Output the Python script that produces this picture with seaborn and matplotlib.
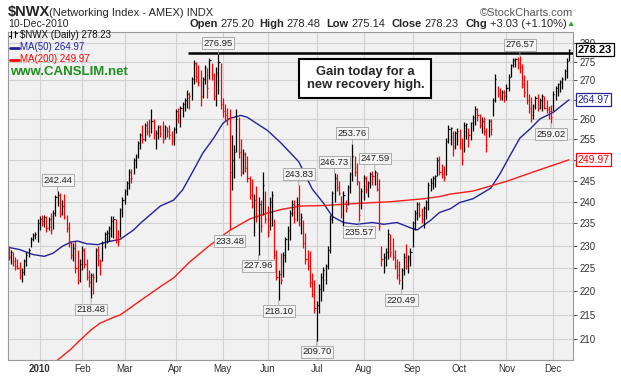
import pandas as pd
import numpy as np
import matplotlib.pyplot as plt
import matplotlib.ticker as mticker
from matplotlib.lines import Line2D
import seaborn as sns

# $NWX daily bars 11-Dec-2009 .. 10-Dec-2010
highs = [
    229.8, 229.0, 228.5, 227.5, 227.0, 226.3, 225.0, 227.0, 228.5, 229.5, 231.9, 232.8, 233.0, 236.0,  # Dec 09
    236.7, 236.9, 237.0, 236.8, 236.5, 237.3, 238.0, 241.5, 242.44, 242.0, 240.5, 241.8, 237.0, 235.3,
    231.0, 230.5, 231.0, 229.0, 227.0,  # Jan
    230.0, 229.5, 227.0, 224.5, 224.0, 224.0, 229.5, 230.0, 227.0, 231.0, 233.0, 233.5, 234.5, 236.7,
    236.7, 236.0, 233.5, 238.5, 241.0,  # Feb
    243.0, 245.0, 247.7, 247.8, 250.5, 251.5, 254.5, 256.5, 258.5, 259.0, 259.5, 260.0, 262.5, 260.0,
    257.3, 258.5, 258.5, 259.5, 258.5, 258.0, 258.5, 257.0, 258.0,  # Mar
    262.5, 263.0, 263.5, 264.5, 265.5, 267.5, 267.0, 271.0, 275.4, 275.0, 274.0, 272.7, 271.0, 274.0,
    273.2, 276.0, 274.5, 272.0, 273.5, 276.95, 274.5,  # Apr
    265.5, 264.0, 263.0, 262.5, 256.0, 253.5, 262.5, 260.5, 255.0, 252.5, 252.0, 250.9, 246.0, 245.3,
    241.7, 243.6, 241.0, 240.4, 247.0, 242.6,  # May
    239.0, 241.0, 242.5, 236.0, 229.0, 224.5, 228.3, 228.5, 232.0, 234.5, 238.0, 240.3, 240.4, 241.0,
    243.83, 237.5, 235.7, 232.8, 229.0, 228.7, 224.0, 222.5,  # Jun
    218.0, 221.5, 224.0, 225.2, 226.0, 229.8, 236.9, 242.6, 246.73, 246.5, 245.0, 241.3, 242.6, 240.4,
    244.0, 247.0, 253.76, 251.0, 249.3, 245.0, 243.3,  # Jul
    246.4, 246.0, 245.0, 247.0, 247.3, 247.59, 247.0, 245.3, 229.8, 228.4, 229.5, 233.7, 232.5, 231.7,
    229.0, 227.0, 226.5, 225.0, 228.4, 230.4, 228.0, 229.5,  # Aug
    235.5, 238.1, 240.0, 240.0, 238.5, 239.0, 240.5, 244.7, 245.5, 246.0, 246.4, 250.6, 251.0, 249.0,
    248.5, 255.3, 258.5, 258.0, 257.0, 257.0, 257.8,  # Sep
    257.5, 255.3, 259.4, 259.0, 257.8, 259.4, 261.0, 263.5, 263.0, 261.3, 260.5, 260.5, 257.8, 260.0,
    260.2, 265.4, 271.6, 268.6, 268.0, 267.5, 267.5,  # Oct
    269.0, 271.6, 274.4, 275.9, 276.0, 276.2, 276.57, 274.4, 271.5, 270.0, 266.5, 265.6, 264.0, 266.0,
    266.4, 265.5, 266.4, 266.0, 265.0, 263.5, 263.7,  # Nov
    267.2, 268.6, 269.4, 270.0, 270.8, 273.0, 276.0, 278.48,  # Dec
]
lows = [
    226.8, 226.0, 225.5, 224.5, 224.8, 222.6, 222.0, 223.5, 225.5, 227.5, 229.6, 231.0, 231.5, 230.9,
    233.5, 234.5, 234.2, 233.0, 233.5, 232.6, 233.8, 236.8, 239.0, 236.5, 237.0, 236.0, 233.0, 229.6,
    227.0, 226.5, 224.0, 221.5, 222.0,
    224.5, 225.0, 222.5, 221.0, 218.48, 219.5, 222.0, 225.5, 223.6, 226.5, 229.5, 230.5, 231.0, 232.0,
    231.8, 230.5, 230.0, 232.0, 236.5,
    239.5, 241.5, 243.0, 244.5, 246.5, 248.0, 250.5, 252.5, 254.0, 254.5, 256.0, 255.5, 256.5, 255.0,
    252.5, 255.0, 255.5, 254.0, 255.0, 255.5, 255.0, 253.5, 253.5,
    256.5, 259.0, 258.0, 260.5, 262.0, 263.0, 262.5, 265.0, 269.0, 269.5, 268.5, 263.5, 265.5, 269.0,
    265.5, 270.5, 270.0, 265.0, 263.5, 266.5, 262.5,
    260.5, 259.5, 258.5, 233.48, 242.8, 245.5, 252.0, 250.5, 246.0, 246.5, 247.0, 244.7, 240.6, 238.5,
    232.1, 235.3, 227.96, 233.0, 237.0, 235.0,
    232.0, 233.5, 234.5, 227.0, 222.5, 218.10, 221.5, 223.0, 226.3, 229.0, 231.3, 236.6, 235.0, 235.5,
    234.5, 232.5, 229.5, 226.0, 224.5, 221.0, 218.7, 215.4,
    209.70, 215.4, 218.0, 220.0, 221.5, 224.8, 228.4, 235.0, 240.0, 242.6, 241.5, 236.2, 234.5, 237.7,
    239.3, 242.0, 245.0, 246.0, 244.0, 235.57, 238.3,
    240.4, 242.0, 241.0, 243.3, 244.0, 244.0, 242.6, 233.5, 225.5, 224.0, 225.5, 227.1, 227.5, 226.7,
    224.8, 222.6, 221.5, 220.49, 223.5, 224.8, 224.0, 225.5,
    229.6, 233.5, 235.8, 236.5, 235.0, 234.0, 236.0, 238.0, 242.6, 243.0, 243.5, 246.0, 246.4, 245.5,
    245.0, 246.4, 254.0, 253.5, 251.0, 252.5, 253.5,
    252.5, 248.8, 252.0, 255.0, 253.2, 254.8, 257.0, 258.6, 259.5, 257.8, 256.5, 256.0, 252.0, 255.5,
    256.0, 260.8, 264.4, 265.6, 264.9, 265.0, 264.5,
    265.0, 267.3, 270.8, 273.6, 273.5, 273.0, 272.0, 268.0, 265.6, 263.8, 261.5, 259.4, 260.0, 262.5,
    262.0, 262.5, 262.0, 262.5, 261.5, 260.0, 259.02,
    262.0, 264.8, 266.0, 267.0, 267.9, 270.0, 270.6, 275.14,
]
closes = [
    227.5, 228.5, 226.5, 225.5, 225.0, 223.2, 224.2, 226.5, 228.0, 229.0, 231.5, 232.3, 232.5, 235.0,
    236.0, 235.5, 236.5, 234.0, 236.0, 233.5, 237.5, 241.0, 241.5, 237.5, 239.0, 236.5, 234.0, 230.5,
    228.0, 229.5, 225.0, 222.5, 226.0,
    229.0, 226.0, 223.0, 222.0, 223.5, 223.0, 229.0, 228.0, 226.5, 230.5, 232.5, 232.8, 234.0, 235.5,
    236.0, 231.5, 231.0, 238.0, 240.5,
    242.5, 244.5, 247.0, 245.5, 250.0, 251.0, 254.0, 256.0, 255.0, 258.5, 257.0, 256.0, 259.5, 256.0,
    256.5, 258.0, 256.5, 255.0, 258.0, 257.0, 256.0, 254.5, 257.5,
    262.0, 261.0, 263.0, 264.0, 265.0, 266.5, 266.0, 270.5, 274.5, 271.0, 269.5, 266.0, 270.5, 273.5,
    268.0, 275.5, 271.5, 266.0, 272.0, 275.0, 264.0,
    262.0, 261.0, 260.0, 247.0, 250.0, 252.0, 260.0, 252.0, 247.0, 251.5, 248.0, 245.5, 241.5, 239.0,
    240.5, 236.5, 239.5, 234.5, 244.0, 236.0,
    233.0, 240.0, 241.5, 228.0, 223.0, 223.8, 222.5, 228.0, 231.5, 233.5, 237.5, 239.5, 236.0, 239.5,
    235.0, 236.5, 230.5, 227.0, 225.5, 222.0, 219.5, 216.5,
    217.0, 220.5, 223.0, 224.5, 225.5, 229.0, 236.0, 242.0, 245.5, 243.5, 242.0, 237.0, 241.5, 238.5,
    243.5, 246.5, 251.0, 247.0, 245.0, 237.0, 242.5,
    245.5, 243.0, 244.5, 246.5, 246.0, 247.0, 243.0, 234.5, 227.0, 227.5, 228.5, 232.5, 228.5, 227.5,
    225.5, 223.5, 222.5, 224.5, 227.5, 225.5, 227.5, 228.5,
    235.0, 237.5, 239.5, 237.0, 236.0, 238.5, 240.0, 244.0, 244.5, 245.5, 246.0, 250.0, 247.0, 246.5,
    245.8, 254.5, 257.5, 257.8, 253.0, 256.5, 257.0,
    254.0, 250.0, 258.5, 258.8, 256.0, 259.0, 260.5, 262.5, 261.0, 258.5, 259.5, 257.0, 253.5, 259.5,
    257.5, 265.0, 270.5, 266.5, 265.5, 267.0, 266.0,
    268.0, 271.0, 274.0, 275.5, 275.8, 274.5, 273.5, 269.0, 267.0, 265.0, 263.0, 261.0, 263.5, 265.5,
    263.0, 265.0, 266.0, 263.0, 262.5, 262.0, 260.5,
    266.5, 268.0, 269.0, 269.5, 270.5, 272.5, 275.2, 278.23,
]

# moving averages (bar index, value)
ma50_idx = [0, 5, 11, 16, 20, 24, 28, 31, 35, 40, 44, 50, 56, 59, 68, 74, 78, 83, 87, 92, 96, 99,
            104, 107, 111, 116, 122, 126, 130, 136, 141, 145, 150, 156, 163, 168, 174, 180, 183, 189,
            193, 198, 202, 208, 216, 220, 225, 229, 234, 238, 244, 251]
ma50_val = [229.6, 229.1, 228.0, 227.6, 228.3, 229.8, 230.8, 231.0, 230.4, 230.2, 230.8, 231.4, 233.5,
            235.0, 239.0, 240.4, 242.8, 247.6, 251.6, 255.4, 259.0, 260.2, 261.0, 260.5, 259.0, 257.2,
            254.1, 251.8, 249.5, 243.0, 239.7, 236.6, 235.2, 234.8, 235.2, 234.8, 235.2, 234.0, 233.5,
            235.7, 237.5, 238.4, 239.8, 240.7, 243.2, 246.5, 251.4, 255.3, 257.8, 260.1, 261.8, 264.97]
ma200_idx = [18, 22, 28, 32, 37, 41, 47, 50, 59, 68, 74, 81, 89, 99, 108, 116, 123, 131, 141, 156,
             171, 186, 193, 198, 208, 223, 238, 251]
ma200_val = [204.5, 205.8, 208.0, 209.8, 211.9, 213.3, 214.5, 215.0, 218.0, 221.0, 222.9, 226.3,
             229.6, 233.4, 236.0, 237.4, 238.3, 239.0, 239.1, 239.6, 240.0, 240.7, 241.2, 241.8,
             242.5, 244.8, 247.6, 249.97]

# labelled highs (+1) and lows (-1)
marks = [(22, 1), (37, -1), (94, 1), (99, -1), (112, -1), (121, -1), (130, 1), (138, -1),
         (146, 1), (154, 1), (157, -1), (164, 1), (176, -1), (229, 1), (243, -1)]

holidays = ["2009-12-25", "2010-01-01", "2010-01-18", "2010-02-15", "2010-04-02",
            "2010-05-31", "2010-07-05", "2010-09-06", "2010-11-25"]
dates = pd.bdate_range("2009-12-11", "2010-12-10", freq="C", holidays=holidays)

df = pd.DataFrame({"date": dates, "high": highs, "low": lows, "close": closes})
df["x"] = np.arange(len(df))
df["color"] = np.where(df["close"].diff() > 0, "black", "#ff0000")

sns.set_style("whitegrid", {"axes.facecolor": "#f1f1f1", "grid.color": "#d2d2d2",
                            "axes.edgecolor": "#9a9a9a"})
plt.rcParams["font.family"] = ["Liberation Sans", "DejaVu Sans"]

W, H = 621, 377
fig = plt.figure(figsize=(W / 100, H / 100), dpi=100)
ax = fig.add_axes([7.5 / W, 17 / H, 565.5 / W, 328.3 / H])


def fx(x):
    return x / W


def fy(y):
    return 1 - y / H


# bars
ax.vlines(df["x"], df["low"], df["high"], colors=df["color"], lw=0.9, zorder=3)
ax.hlines(df["close"], df["x"], df["x"] + 0.5, colors=df["color"], lw=0.9, zorder=3)

sns.lineplot(x=ma50_idx, y=ma50_val, ax=ax, color="#23239b", lw=1.0, zorder=2)
sns.lineplot(x=ma200_idx, y=ma200_val, ax=ax, color="#ff1a1a", lw=1.0, zorder=2)

ax.hlines(277.4, 80.6, 253, colors="black", lw=1.8, zorder=4)

ax.set_yscale("log")
ax.set_xlim(-0.45, 252.8)
ax.set_ylim(205.8, 283.1)
yticks = list(range(210, 285, 5))
# 250 and 265 sit under the MA price tags, as in the original
ylabels = ["" if t in (250, 265) else str(t) for t in yticks]
ax.yaxis.set_major_locator(mticker.FixedLocator(yticks))
ax.yaxis.set_minor_locator(mticker.NullLocator())
ax.yaxis.set_major_formatter(mticker.FixedFormatter(ylabels))
ax.yaxis.tick_right()
ax.tick_params(axis="y", length=3, width=0.6, pad=1.5, labelsize=7, colors="#333333")

month_first = df[df["date"] >= "2010-01-01"].groupby(df["date"].dt.month)["x"].first()
month_lbl = ["2010"] + [pd.Timestamp(2010, m, 1).strftime("%b") for m in month_first.index[1:]]
ax.set_xticks(month_first.values)
ax.set_xticklabels(month_lbl)
ax.tick_params(axis="x", length=0, pad=3, labelsize=7, colors="#333333")
ax.get_xticklabels()[0].set_fontweight("bold")
ax.set_xlabel("")
ax.set_ylabel("")
ax.grid(True, lw=0.8)
for s in ax.spines.values():
    s.set_linewidth(0.8)

# high / low labels
for i, side in marks:
    val = df.loc[i, "high"] if side > 0 else df.loc[i, "low"]
    ax.annotate(f"{val:.2f}", xy=(i, val), xytext=(0, 8 * side), textcoords="offset points",
                ha="center", va="center", fontsize=6.8, color="#222222", zorder=6,
                bbox=dict(boxstyle="square,pad=0.15", fc="#f4f4f4", ec="#a0a0a0", lw=0.6),
                arrowprops=dict(arrowstyle="-", color="#a0a0a0", lw=0.6, shrinkA=0, shrinkB=0))

ax.text(0.633, 0.8575, "Gain today for a\nnew recovery high.", transform=ax.transAxes,
        ha="center", va="center", fontsize=9.4, fontweight="bold", linespacing=1.15, zorder=7,
        bbox=dict(boxstyle="square,pad=0.55", fc="white", ec="black", lw=1.5))

# price tags on the right axis
tags = [(closes[-1], "black", "black", "bold", 8), (ma50_val[-1], "#23239b", "#23239b", "normal", 7.5),
        (ma200_val[-1], "#ff0000", "#ff0000", "normal", 7.5)]
for val, tc, ec, fw, fs in tags:
    ax.annotate(f"{val:.2f}", xy=(1.0, val), xycoords=("axes fraction", "data"),
                xytext=(3.5, 0), textcoords="offset points", ha="left", va="center",
                fontsize=fs, fontweight=fw, color=tc, zorder=8, annotation_clip=False,
                bbox=dict(boxstyle="square,pad=0.15", fc="white", ec=ec, lw=0.9))

# legend inside the plot
fig.add_artist(Line2D([fx(11), fx(11)], [fy(38), fy(31)], color="black", lw=0.8))
fig.add_artist(Line2D([fx(15), fx(15)], [fy(37), fy(31)], color="black", lw=0.8))
fig.add_artist(Line2D([fx(9), fx(11)], [fy(36), fy(36)], color="black", lw=0.8))
fig.add_artist(Line2D([fx(15), fx(17)], [fy(33), fy(33)], color="black", lw=0.8))
fig.text(fx(20), fy(34.5), "$NWX (Daily) 278.23", fontsize=7, va="center", color="#111111",
         parse_math=False)
fig.add_artist(Line2D([fx(10), fx(19)], [fy(48), fy(48)], color="#23239b", lw=2))
fig.text(fx(20.5), fy(47.5), "MA(50) 264.97", fontsize=7, va="center", color="#23239b")
fig.add_artist(Line2D([fx(10), fx(19)], [fy(60), fy(60)], color="#ff0000", lw=2))
fig.text(fx(20.5), fy(59.5), "MA(200) 249.97", fontsize=7, va="center", color="#ff0000")
fig.text(fx(10.5), fy(72), "www.CANSLIM.net", fontsize=9.5, fontweight="bold", va="center",
         color="#1f8f1f")

# header
fig.text(fx(8), fy(12), "$NWX", fontsize=10.5, fontweight="bold", va="center", parse_math=False)
fig.text(fx(49), fy(12.5), "(Networking Index - AMEX) INDX", fontsize=8, va="center")
fig.text(fx(573), fy(12.5), "\u00a9StockCharts.com", fontsize=8, va="center", ha="right",
         color="#555555")
fig.text(fx(8), fy(24), "10-Dec-2010", fontsize=7.5, va="center")
hdr = [(189, "Open", "bold"), (220, "275.20", "normal"), (259, "High", "bold"),
       (286, "278.48", "normal"), (326, "Low", "bold"), (351, "275.14", "normal"),
       (391, "Close", "bold"), (424, "278.23", "normal"), (465, "Chg", "bold"),
       (490, "+3.03 (+1.10%)", "normal")]
for x, s, w in hdr:
    fig.text(fx(x), fy(24), s, fontsize=8, fontweight=w, va="center")
fig.text(fx(566), fy(24), "\u25b2", fontsize=6, va="center", color="#22aa22")

fig.savefig("out.png", dpi=100)
